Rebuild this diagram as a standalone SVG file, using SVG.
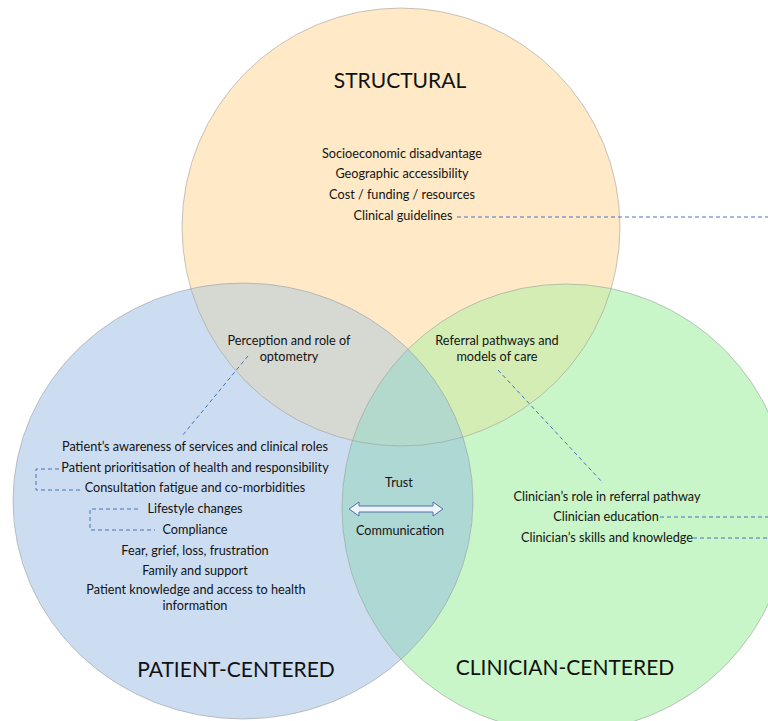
<svg xmlns="http://www.w3.org/2000/svg" width="768" height="721" viewBox="0 0 768 721">
<style>
  .t { font-family: Lato, "Open Sans", "Liberation Sans", sans-serif; font-size: 12.7px; fill: #141414; text-anchor: middle; }
  .h { font-family: Lato, "Open Sans", "Liberation Sans", sans-serif; font-size: 21px; fill: #111; text-anchor: middle; }
  .edge { fill: none; stroke: #9a9a9a; stroke-width: 0.8; stroke-opacity: 0.7; }
  .dash { fill: none; stroke: #4472C4; stroke-width: 1; stroke-dasharray: 4 3; }
</style>
<defs>
  <clipPath id="clipO"><circle cx="401" cy="227" r="219"/></clipPath>
  <clipPath id="clipB"><ellipse cx="243" cy="501" rx="230" ry="218"/></clipPath>
</defs>
<rect width="768" height="721" fill="#ffffff"/>

<g id="node-structural">
  <circle cx="401" cy="227" r="219" fill="#FFE9C6"/>
</g>
<g id="node-patient-centered">
  <ellipse cx="243" cy="501" rx="230" ry="218" fill="#CCDDF1"/>
</g>
<g id="node-clinician-centered">
  <circle cx="566" cy="508" r="224" fill="#C8F6C8"/>
</g>

<g id="overlaps">
  <ellipse cx="243" cy="501" rx="230" ry="218" fill="#D6D8D2" clip-path="url(#clipO)"/>
  <circle cx="566" cy="508" r="224" fill="#D3EDB4" clip-path="url(#clipO)"/>
  <circle cx="566" cy="508" r="224" fill="#AED8D4" clip-path="url(#clipB)"/>
  <g clip-path="url(#clipO)">
    <circle cx="566" cy="508" r="224" fill="#B3D9CD" clip-path="url(#clipB)"/>
  </g>
</g>

<g id="outlines">
  <circle class="edge" cx="401" cy="227" r="219"/>
  <ellipse class="edge" cx="243" cy="501" rx="230" ry="218"/>
  <circle class="edge" cx="566" cy="508" r="224"/>
</g>

<g id="connectors">
  <line class="dash" x1="457" y1="217" x2="768" y2="217"/>
  <line class="dash" x1="248" y1="356" x2="182" y2="436"/>
  <line class="dash" x1="498" y1="370" x2="603" y2="483"/>
  <line class="dash" x1="660" y1="517" x2="768" y2="517"/>
  <line class="dash" x1="693" y1="538" x2="768" y2="538"/>
  <polyline class="dash" points="59,469 36,469 36,490 82,490"/>
  <polyline class="dash" points="138,509 90,509 90,530 155,530"/>
  <path id="arrow-trust-communication" d="M349,509 L359,502 L359,506 L433,506 L433,502 L443,509 L433,516 L433,512 L359,512 L359,516 Z" fill="#EEF3FA" stroke="#5072AD" stroke-width="1"/>
</g>

<g id="labels-structural">
  <text class="h" x="400" y="88">STRUCTURAL</text>
  <text class="t" x="402" y="158">Socioeconomic disadvantage</text>
  <text class="t" x="402" y="178">Geographic accessibility</text>
  <text class="t" x="402" y="199">Cost / funding / resources</text>
  <text class="t" x="403" y="220">Clinical guidelines</text>
</g>
<g id="labels-overlaps">
  <text class="t" x="289" y="345">Perception and role of</text>
  <text class="t" x="289" y="361">optometry</text>
  <text class="t" x="497" y="345">Referral pathways and</text>
  <text class="t" x="497" y="361">models of care</text>
  <text class="t" x="399" y="487">Trust</text>
  <text class="t" x="400" y="535">Communication</text>
</g>
<g id="labels-patient">
  <text class="t" x="195" y="451">Patient’s awareness of services and clinical roles</text>
  <text class="t" x="195" y="472">Patient prioritisation of health and responsibility</text>
  <text class="t" x="195" y="492">Consultation fatigue and co-morbidities</text>
  <text class="t" x="195" y="513">Lifestyle changes</text>
  <text class="t" x="195" y="534">Compliance</text>
  <text class="t" x="195" y="555">Fear, grief, loss, frustration</text>
  <text class="t" x="195" y="575">Family and support</text>
  <text class="t" x="196" y="594">Patient knowledge and access to health</text>
  <text class="t" x="195" y="610">information</text>
  <text class="h" x="236" y="677">PATIENT-CENTERED</text>
</g>
<g id="labels-clinician">
  <text class="t" x="607" y="501">Clinician’s role in referral pathway</text>
  <text class="t" x="606" y="521">Clinician education</text>
  <text class="t" x="607" y="542">Clinician’s skills and knowledge</text>
  <text class="h" x="565" y="675">CLINICIAN-CENTERED</text>
</g>
</svg>
